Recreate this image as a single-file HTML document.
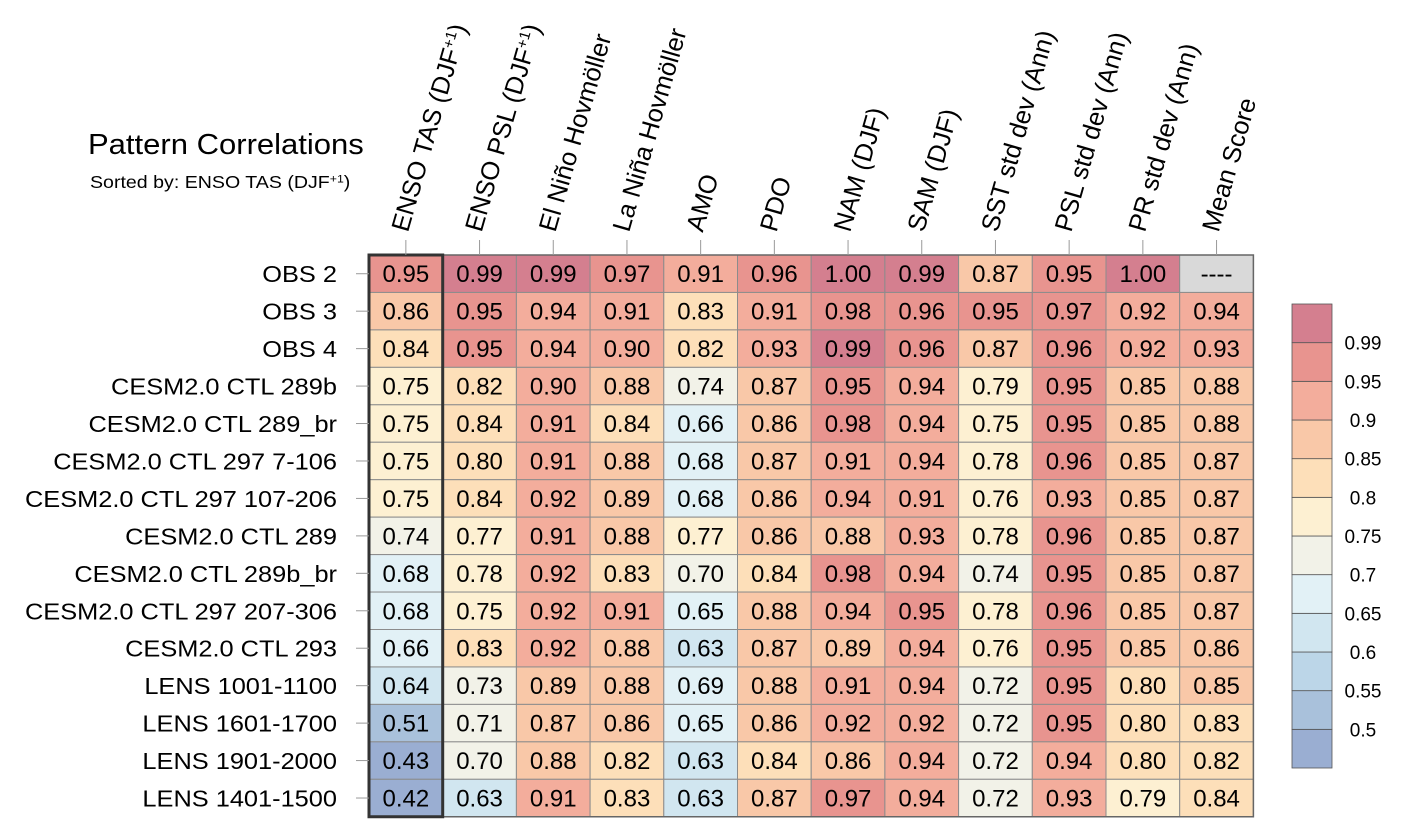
<!DOCTYPE html>
<html><head><meta charset="utf-8"><style>
html,body{margin:0;padding:0;background:#fff;}
svg{display:block;font-family:"Liberation Sans",sans-serif;}
</style></head><body>
<svg id="chart" width="1403" height="839" viewBox="0 0 1403 839">
<text x="0" y="0" font-size="29" transform="translate(88 154) scale(1.07 1)">Pattern Correlations</text>
<text x="0" y="0" font-size="17.5" transform="translate(90 188) scale(1.12 1)">Sorted by: ENSO TAS (DJF<tspan baseline-shift="super" font-size="11">+1</tspan>)</text>
<g id="cells"></g><g id="labels"></g><g id="cbar"></g>
</svg>
<script>
const columns = ["ENSO TAS (DJF|+1|)","ENSO PSL (DJF|+1|)","El Niño Hovmöller","La Niña Hovmöller","AMO","PDO","NAM (DJF)","SAM (DJF)","SST std dev (Ann)","PSL std dev (Ann)","PR std dev (Ann)","Mean Score"];
const rows = ["OBS 2","OBS 3","OBS 4","CESM2.0 CTL 289b","CESM2.0 CTL 289_br","CESM2.0 CTL 297 7-106","CESM2.0 CTL 297 107-206","CESM2.0 CTL 289","CESM2.0 CTL 289b_br","CESM2.0 CTL 297 207-306","CESM2.0 CTL 293","LENS 1001-1100","LENS 1601-1700","LENS 1901-2000","LENS 1401-1500"];
const values = [
[0.95,0.99,0.99,0.97,0.91,0.96,1.00,0.99,0.87,0.95,1.00,null],
[0.86,0.95,0.94,0.91,0.83,0.91,0.98,0.96,0.95,0.97,0.92,0.94],
[0.84,0.95,0.94,0.90,0.82,0.93,0.99,0.96,0.87,0.96,0.92,0.93],
[0.75,0.82,0.90,0.88,0.74,0.87,0.95,0.94,0.79,0.95,0.85,0.88],
[0.75,0.84,0.91,0.84,0.66,0.86,0.98,0.94,0.75,0.95,0.85,0.88],
[0.75,0.80,0.91,0.88,0.68,0.87,0.91,0.94,0.78,0.96,0.85,0.87],
[0.75,0.84,0.92,0.89,0.68,0.86,0.94,0.91,0.76,0.93,0.85,0.87],
[0.74,0.77,0.91,0.88,0.77,0.86,0.88,0.93,0.78,0.96,0.85,0.87],
[0.68,0.78,0.92,0.83,0.70,0.84,0.98,0.94,0.74,0.95,0.85,0.87],
[0.68,0.75,0.92,0.91,0.65,0.88,0.94,0.95,0.78,0.96,0.85,0.87],
[0.66,0.83,0.92,0.88,0.63,0.87,0.89,0.94,0.76,0.95,0.85,0.86],
[0.64,0.73,0.89,0.88,0.69,0.88,0.91,0.94,0.72,0.95,0.80,0.85],
[0.51,0.71,0.87,0.86,0.65,0.86,0.92,0.92,0.72,0.95,0.80,0.83],
[0.43,0.70,0.88,0.82,0.63,0.84,0.86,0.94,0.72,0.94,0.80,0.82],
[0.42,0.63,0.91,0.83,0.63,0.87,0.97,0.94,0.72,0.93,0.79,0.84]];
const levels = [0.5,0.55,0.6,0.65,0.7,0.75,0.8,0.85,0.9,0.95,0.99];
const levelLabels = ["0.5","0.55","0.6","0.65","0.7","0.75","0.8","0.85","0.9","0.95","0.99"];
const palette = ["#9aaed2","#a9c1db","#bcd6e8","#d1e6f0","#e2f1f6","#f2f2e8","#fdf0d2","#fddfb9","#f9c8a8","#f3ad9c","#e8948f","#d47f8f"];

const NS="http://www.w3.org/2000/svg";
const X0=369, Y0=255, CW=73.7, RH=37.45;
const xPos=i=>X0+i*CW, yPos=j=>Y0+j*RH;
function colorFor(v){let k=0;for(let i=0;i<levels.length;i++){if(v>=levels[i]-1e-9)k=i+1;}return palette[k];}
function mk(tag,attrs,parent){const e=document.createElementNS(NS,tag);for(const a in attrs)e.setAttribute(a,attrs[a]);parent.appendChild(e);return e;}
const gc=document.getElementById('cells'), gl=document.getElementById('labels'), gb=document.getElementById('cbar');

rows.forEach((r,j)=>{
  columns.forEach((c,i)=>{
    const v=values[j][i];
    const rect=mk('rect',{x:xPos(i),y:yPos(j),width:CW,height:RH,fill:v==null?'#d9d9d9':colorFor(v),stroke:'#8c8c8c','stroke-width':1},gc);
    
    
    const t=mk('text',{x:xPos(i)+CW/2,y:yPos(j)+RH/2+8.5,'font-size':24,'text-anchor':'middle',fill:'#000'},gc);
    t.textContent=v==null?'----':v.toFixed(2);
    
    
  });
  const ly=yPos(j)+RH/2+8.5;
  const lt=mk('text',{x:0,y:0,'font-size':23.5,'text-anchor':'end',transform:'translate(337 '+ly+') scale(1.08 1)'},gl);
  lt.textContent=r;
  
  
  const tk=mk('line',{x1:356,x2:369,y1:yPos(j)+RH/2,y2:yPos(j)+RH/2,stroke:'#999','stroke-width':1},gl);
  
  
});
const outer=mk('rect',{x:X0,y:Y0,width:CW*12,height:RH*15,fill:'none',stroke:'#666','stroke-width':1.5},gc);


const sel=mk('rect',{x:X0,y:Y0,width:CW,height:RH*15,fill:'none',stroke:'#333','stroke-width':3},gc);



columns.forEach((c,i)=>{
  const cx=xPos(i)+CW/2;
  const tk=mk('line',{x1:cx,x2:cx,y1:240,y2:255,stroke:'#999','stroke-width':1},gl);
  
  
  const ax=cx+2, ay=233;
  const t=mk('text',{x:ax,y:ay,'font-size':25.5,transform:'rotate(-74 '+ax+' '+ay+')'},gl);
  const parts=c.split('|');
  parts.forEach((p,k)=>{const s=mk('tspan',{},t);s.textContent=p;if(k===1){s.setAttribute('baseline-shift','super');s.setAttribute('font-size','15');}});
  
  
});

const BX=1292,BY=304,BW=40,BH=464/palette.length;
for(let k=0;k<palette.length;k++){
  const y=BY+(palette.length-1-k)*BH;
  const r=mk('rect',{x:BX,y:y,width:BW,height:BH,fill:palette[k],stroke:'#555','stroke-width':0.8},gb);
  
  
}
levels.forEach((lv,k)=>{
  const y=BY+(palette.length-1-k)*BH;
  const t=mk('text',{x:1363,y:y+7,'font-size':19,'text-anchor':'middle'},gb);
  t.textContent=levelLabels[k];
  
  
});
</script>
</body></html>
